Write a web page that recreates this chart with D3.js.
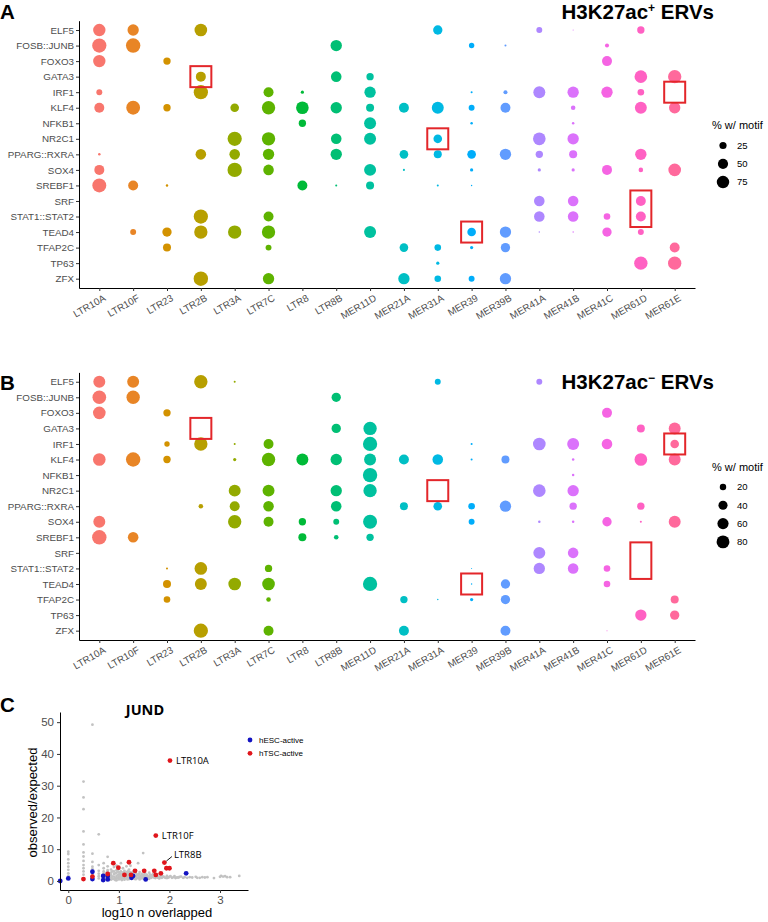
<!DOCTYPE html>
<html><head><meta charset="utf-8">
<script src="https://cdn.jsdelivr.net/npm/d3@7"></script>
<style>body{margin:0;background:#fff}svg{display:block}</style>
</head><body><svg id="c" width="768" height="922"></svg>
<script>
// ---------------- DATA ----------------
const motifs = ["ELF5","FOSB::JUNB","FOXO3","GATA3","IRF1","KLF4","NFKB1","NR2C1","PPARG::RXRA","SOX4","SREBF1","SRF","STAT1::STAT2","TEAD4","TFAP2C","TP63","ZFX"];
const ervs = ["LTR10A","LTR10F","LTR23","LTR2B","LTR3A","LTR7C","LTR8","LTR8B","MER11D","MER21A","MER31A","MER39","MER39B","MER41A","MER41B","MER41C","MER61D","MER61E"];
const ervPalette = ["#F8766D","#E88526","#D39200","#B79F00","#93AA00","#5EB300","#00BA38","#00BF74","#00C19F","#00BFC4","#00B9E3","#00ADFA","#619CFF","#AE87FF","#DB72FB","#F564E3","#FF61C3","#FF699C"];

// % of elements with motif, H3K27ac+ ERVs (rows = motifs, cols = ervs; 0 = no dot)
const valuesA = [
 [74,62,0,77,0,0,0,0,0,0,42,0,0,17,0.5,0,26,0],
 [98,100,0,0,0,0,0,62,0,0,0,14,2,0,0,8,0,0],
 [74,0,26,0,0,0,0,0,0,0,0,0,0,0,0,48,0,0],
 [0,0,0,48,0,0,0,54,26,0,0,0,0,0,0,0,77,86],
 [17,0,0,98,0,48,5,0,62,0,0,2,8,69,62,62,21,0],
 [48,92,26,0,36,86,77,62,31,48,69,17,48,0,10,0,69,62],
 [0,0,0,0,0,0,26,0,69,0,0,3,0,0,3,0,0,0],
 [0,0,0,0,98,86,0,54,69,0,36,0,0,77,62,0,0,0],
 [3,0,0,54,54,62,0,62,0,36,31,36,62,26,31,0,62,0],
 [48,0,0,0,100,54,0,0,69,2,0,5,0,5,5,48,10,77],
 [94,48,3,0,0,0,48,2,31,0,2,1,0,0,0,0,0,0],
 [0,0,0,0,0,0,0,0,0,0,0,0,0,54,54,0,48,0],
 [0,0,0,98,0,48,0,0,0,0,0,0,0,54,54,21,48,0],
 [0,17,42,86,86,86,0,0,69,0,0,36,62,1,1,42,17,0],
 [0,0,31,0,0,17,0,0,0,36,21,5,42,0,0,0,0,48],
 [0,0,0,0,0,0,0,0,0,0,5,0,0,0,0,0,86,86],
 [0,0,0,100,0,62,0,0,0,62,21,17,62,0,0,0,0,0]
];
// H3K27ac- ERVs
const valuesB = [
 [69,69,0,86,2,0,0,0,0,0,17,0,0,17,0,0,0,0],
 [90,86,0,0,0,0,0,42,0,0,0,0,0,0,0,0,0,0],
 [77,0,26,0,0,0,0,0,0,0,0,0,0,0,0,48,0,0],
 [0,0,0,0,0,0,0,42,86,0,0,0,0,0,0,0,31,69],
 [0,0,14,86,2,48,0,0,98,0,0,2,0,77,69,54,0,36],
 [77,100,26,0,5,86,69,62,69,48,54,2,31,0,3,0,77,69],
 [0,0,0,0,0,0,0,0,100,0,0,0,0,0,3,0,0,0],
 [0,0,0,0,69,69,0,62,86,0,0,0,0,77,62,0,0,0],
 [0,0,0,10,48,54,0,54,0,31,36,21,62,0,26,0,26,0],
 [69,0,0,0,86,48,26,17,94,0,0,17,0,3,3,42,2,69],
 [100,54,0,0,0,0,31,10,26,0,0,0,0,0,0,0,0,0],
 [0,0,0,0,0,0,0,0,0,0,0,0,0,69,54,0,0,0],
 [0,0,2,77,0,26,0,0,0,0,0,0.5,0,62,54,21,0,0],
 [0,0,31,69,77,77,0,0,98,0,0,1,42,0,0,21,0,0],
 [0,0,21,0,0,10,0,0,0,26,1,5,42,0,0,0,0,31],
 [0,0,0,0,0,0,0,0,0,0,0,0,0,0,0,0,62,42],
 [0,0,0,98,0,48,0,0,0,48,0,0,48,0,0,0.5,0,0]
];
// highlighted cells: [erv, first motif, last motif]
const boxesA = [["LTR2B","GATA3","GATA3"],["MER31A","NR2C1","NR2C1"],["MER39","TEAD4","TEAD4"],["MER61E","IRF1","IRF1"],["MER61D","SRF","STAT1::STAT2"]];
const boxesB = [["LTR2B","GATA3","GATA3"],["MER31A","NR2C1","NR2C1"],["MER39","TEAD4","TEAD4"],["MER61E","IRF1","IRF1"],["MER61D","SRF","STAT1::STAT2"]];
const legendA = [25,50,75];
const legendB = [20,40,60,80];

// Panel C: JUND enrichment, [log10 n overlapped, observed/expected]
const grayPoints = [
 [0,9.2],[0,8.5],[0,6.8],[0,5.6],[0,4.5],[0,3.5],[0,2.4],[0,1.6],[0,1.2],
 [0.301,31.3],[0.301,26.3],[0.301,22.6],[0.301,15.6],[0.301,11.5],[0.301,9.0],[0.301,7.7],[0.301,6.3],[0.301,5.0],[0.301,4.0],[0.301,3.0],[0.301,2.0],
 [0.477,49.2],[0.477,8.6],[0.477,6.0],[0.477,4.5],[0.477,3.8],[0.477,2.0],[0.477,1.2],
 [0.602,14.7],[0.602,5.0],[0.602,3.2],[0.602,2.3],[0.602,1.5],[0.602,0.8],
 [0.699,5.6],[0.699,4.0],[0.699,3.0],[0.699,2.4],[0.699,1.2],[0.699,0.6],
 [0.778,7.6],[0.778,4.6],[0.778,3.4],[0.778,2.8],[0.778,1.2],[0.778,0.4],
 [0.845,3.6],[0.845,2.6],[0.845,1.8],[0.845,1.0],[0.845,0.4],
 [0.903,4.4],[0.903,3.0],[0.903,2.2],[0.903,1.4],[0.903,0.6],
 [0.954,4.8],[0.954,3.4],[0.954,2.6],[0.954,1.6],[0.954,0.8],[0.954,0.2],
 [1.0,3.8],[1.0,2.8],[1.0,2.0],[1.0,1.2],[1.0,0.5],
 [1.04,5.6],[1.04,3.0],[1.04,2.2],[1.04,1.4],[1.04,0.6],
 [1.08,4.0],[1.08,2.6],[1.08,1.6],[1.08,0.8],
 [1.11,3.2],[1.11,2.4],[1.11,1.2],[1.11,0.4],
 [1.15,4.6],[1.15,2.8],[1.15,1.8],[1.15,0.9],
 [1.18,3.0],[1.18,2.0],[1.18,1.0],
 [1.2,3.6],[1.2,2.4],[1.2,1.4],[1.2,0.6],
 [1.23,4.8],[1.23,2.2],[1.23,1.2],
 [1.26,2.6],[1.26,1.8],[1.26,0.7],
 [1.3,3.4],[1.3,2.0],[1.3,1.0],
 [1.34,2.4],[1.34,1.4],[1.34,0.6],
 [1.38,5.6],[1.38,2.0],[1.38,1.0],
 [1.41,2.8],[1.41,1.4],[1.41,0.5],
 [1.45,2.2],[1.45,1.2],
 [1.48,8.8],[1.48,1.8],[1.48,0.8],
 [1.52,2.4],[1.52,1.3],
 [1.56,1.9],[1.56,0.9],
 [1.6,2.6],[1.6,1.4],[1.6,0.7],
 [1.64,1.8],[1.64,1.0],
 [1.68,2.2],[1.68,1.2],
 [1.72,1.6],[1.72,0.9],
 [1.76,2.0],[1.76,1.1],
 [1.8,1.4],[1.8,0.8],
 [1.85,1.8],[1.85,1.0],
 [1.9,1.2],[1.95,1.6],[1.95,0.9],[2.0,1.3],[2.05,1.0],[2.1,1.5],[2.15,1.1],[2.2,1.3],[2.27,1.0],
 [2.4,1.2],[2.52,1.3],[2.6,1.0],[2.65,1.2],[2.7,1.1],[2.88,0.9],[3.02,1.6],[3.06,1.4],[3.1,1.5],[3.2,1.2],[3.38,1.6],
 [0.73,2.0],[0.73,1.0],[0.76,2.6],[0.76,0.9],[0.81,2.2],[0.81,1.4],[0.81,0.6],[0.87,3.0],[0.87,1.4],[0.87,0.7],
 [0.93,2.4],[0.93,1.0],[0.93,0.3],[0.98,3.0],[0.98,1.8],[0.98,0.9],[1.02,2.4],[1.02,1.6],[1.02,0.8],[1.06,2.0],
 [1.06,1.0],[1.06,0.3],[1.1,2.8],[1.1,1.6],[1.13,2.0],[1.13,0.8],[1.17,2.4],[1.17,1.4],[1.17,0.5],[1.22,2.8],
 [1.22,1.6],[1.22,0.8],[1.25,2.2],[1.28,1.4],[1.28,2.8],[1.32,1.6],[1.32,0.6],[1.36,1.8],[1.36,0.9],[1.4,2.2],
 [1.4,1.0],[1.43,1.6],[1.43,0.7],[1.47,1.4],[1.5,2.0],[1.5,0.9],[1.54,1.6],[1.54,0.7],[1.58,1.4],[1.62,1.2],
 [1.62,2.0],[1.66,1.5],[1.7,1.1],[1.74,1.4],[1.78,1.0],[1.82,1.2],[1.88,1.4],[1.92,1.0],[1.98,1.1],[2.02,1.5],
 [2.08,1.2],[2.12,0.9],[2.18,1.1],[2.23,1.4],[2.3,1.2],[2.35,1.0],[2.45,1.1],[2.55,1.0],[2.75,1.2],[3.0,1.3],[3.14,1.2]
];
const hescPoints = [[-0.16,0],[0,0.8],[0.477,2.9],[0.477,0.6],[0.69,1.6],[0.69,0.3],[0.78,1.6],[0.78,0.5],[1.25,1.0],[1.28,1.6],[1.53,0.5],[2.33,2.4]];
const htscPoints = [[0.30,0.6],[0.477,1.4],[0.78,2.2],[0.89,5.6],[0.99,4.2],[1.11,1.9],[1.2,5.9],[1.24,1.9],[1.32,3.2],[1.5,3.2],[1.70,3.2],[1.73,1.9],[1.83,2.4],[1.90,5.8],[1.94,4.0],[2.0,4.0],[1.73,14.3],[2.01,37.9]];
const labelNamesC = ["LTR10A","LTR10F","LTR8B"];
const labelPosC = [[2.01,37.9],[1.73,14.3],[1.90,5.8]];
const xTicksC = [0,1,2,3];
const yTicksC = [0,10,20,30,40,50];

// ---------------- DRAW ----------------
const svg = d3.select("#c");
const AX = "Liberation Sans, Arial, sans-serif";
const TT = "Open Sans, Lato, sans-serif";

const x = d3.scalePoint().domain(ervs).range([79, 695]).padding(0.6);
const r = d3.scaleSqrt().domain([0, 100]).range([0, 7.2]);
const color = d3.scaleOrdinal().domain(ervs).range(ervPalette);

function dotPanel(values, top, bottom, boxes, legendVals, legendTop, titleY, titleSign) {
  const g = svg.append("g");
  const y = d3.scalePoint().domain(motifs).range([top, bottom]).padding(0.6);
  const cells = [];
  values.forEach((row, i) => row.forEach((v, j) => { if (v > 0) cells.push({m: motifs[i], e: ervs[j], v}); }));
  g.selectAll("circle.dot").data(cells).join("circle").attr("class", "dot")
    .attr("cx", d => x(d.e)).attr("cy", d => y(d.m)).attr("r", d => r(d.v))
    .attr("fill", d => color(d.e));
  g.selectAll("rect.box").data(boxes).join("rect").attr("class", "box")
    .attr("x", d => x(d[0]) - 10.5).attr("y", d => y(d[1]) - 10.5)
    .attr("width", 21).attr("height", d => y(d[2]) - y(d[1]) + 21)
    .attr("fill", "none").attr("stroke", "#e3262a").attr("stroke-width", 2);
  const ya = g.append("g").attr("transform", `translate(79,0)`)
    .call(d3.axisLeft(y).tickSize(3).tickSizeOuter(0).tickPadding(2));
  ya.selectAll("text").attr("font-family", AX).attr("font-size", 9.8).attr("fill", "#4d4d4d");
  const xa = g.append("g").attr("transform", `translate(0,${bottom})`)
    .call(d3.axisBottom(x).tickSize(3).tickSizeOuter(0));
  xa.selectAll("text").attr("font-family", AX).attr("font-size", 9.8).attr("fill", "#4d4d4d")
    .attr("text-anchor", "end").attr("x", 0).attr("y", 0).attr("dy", "0.71em")
    .attr("transform", "translate(3,6) rotate(-30)");
  [ya, xa].forEach(a => { a.select(".domain").attr("stroke", "#000").attr("stroke-width", 1); a.selectAll(".tick line").attr("stroke", "#333"); });
  const t = g.append("text").attr("x", 714).attr("y", titleY).attr("text-anchor", "end")
    .attr("font-family", AX).attr("font-weight", "bold").attr("font-size", 20.5).attr("fill", "#000");
  t.append("tspan").text("H3K27ac");
  t.append("tspan").attr("dy", -7).attr("font-size", 12).text(titleSign);
  t.append("tspan").attr("dy", 7).text(" ERVs");
  const lg = g.append("g");
  lg.append("text").attr("x", 712).attr("y", legendTop).attr("font-family", AX).attr("font-size", 11).text("% w/ motif");
  lg.selectAll("circle").data(legendVals).join("circle")
    .attr("cx", 723).attr("cy", (d, i) => legendTop + 16.5 + i * 18.3).attr("r", d => r(d)).attr("fill", "#000");
  lg.selectAll("text.lv").data(legendVals).join("text").attr("class", "lv")
    .attr("x", 737).attr("y", (d, i) => legendTop + 16.5 + i * 18.3).attr("dy", "0.35em")
    .attr("font-family", AX).attr("font-size", 9.5).text(d => d);
}

dotPanel(valuesA, 20.7, 288, boxesA, legendA, 129, 19, "+");
dotPanel(valuesB, 372.4, 640, boxesB, legendB, 470.5, 389, "\u2212");

[["A", 19], ["B", 390], ["C", 712]].forEach(([l, yy]) =>
  svg.append("text").attr("x", 0).attr("y", yy).attr("font-family", AX).attr("font-weight", "bold").attr("font-size", 20.5).text(l));

// ---------------- Panel C ----------------
const gc = svg.append("g");
const xc = d3.scaleLinear().domain([-0.164, 3.553]).range([60, 248]);
const yc = d3.scaleLinear().domain([-2.84, 53.2]).range([890, 712]);
gc.selectAll("circle.gr").data(grayPoints).join("circle").attr("class", "gr")
  .attr("cx", d => xc(d[0])).attr("cy", d => yc(d[1])).attr("r", 1.4).attr("fill", "#c2c2c2");
gc.selectAll("circle.es").data(hescPoints).join("circle").attr("class", "es")
  .attr("cx", d => xc(d[0])).attr("cy", d => yc(d[1])).attr("r", 2.4).attr("fill", "#1313c2");
gc.selectAll("circle.ts").data(htscPoints).join("circle").attr("class", "ts")
  .attr("cx", d => xc(d[0])).attr("cy", d => yc(d[1])).attr("r", 2.4).attr("fill", "#e0161c");
const xca = gc.append("g").attr("transform", "translate(0,890)").call(d3.axisBottom(xc).tickValues(xTicksC).tickFormat(d3.format("d")).tickSize(3).tickSizeOuter(0).tickPadding(3));
const yca = gc.append("g").attr("transform", "translate(60,0)").call(d3.axisLeft(yc).tickValues(yTicksC).tickFormat(d3.format("d")).tickSize(3).tickSizeOuter(0).tickPadding(3));
[xca, yca].forEach(a => {
  a.select(".domain").attr("stroke", "#000").attr("stroke-width", 1);
  a.selectAll(".tick line").attr("stroke", "#333");
  a.selectAll("text").attr("font-family", AX).attr("font-size", 11.5).attr("fill", "#4d4d4d");
});
gc.append("text").attr("x", 145).attr("y", 715).attr("text-anchor", "middle").attr("font-family", TT)
  .attr("font-weight", "bold").attr("font-size", 14.5).text("JUND");
gc.append("text").attr("transform", "translate(37,802.5) rotate(-90)").attr("text-anchor", "middle")
  .attr("font-family", AX).attr("font-size", 13).text("observed/expected");
gc.append("text").attr("x", 157).attr("y", 917).attr("text-anchor", "middle")
  .attr("font-family", AX).attr("font-size", 13).text("log10 n overlapped");
const lblOff = [[6, 3.3], [6, 3.3], [9.5, -5]];
labelNamesC.forEach((n, i) => {
  const px = xc(labelPosC[i][0]), py = yc(labelPosC[i][1]);
  if (n === "LTR8B") gc.append("line").attr("x1", px + 2).attr("y1", py - 1.5).attr("x2", px + 7.5).attr("y2", py - 6)
    .attr("stroke", "#000").attr("stroke-width", 0.9);
  gc.append("text").attr("x", px + lblOff[i][0]).attr("y", py + lblOff[i][1])
    .attr("font-family", TT).attr("font-size", 9.5).text(n);
});
const legC = [["hESC-active", "#1313c2"], ["hTSC-active", "#e0161c"]];
legC.forEach(([t, c], i) => {
  gc.append("circle").attr("cx", 250).attr("cy", 740 + i * 13.3).attr("r", 2.4).attr("fill", c);
  gc.append("text").attr("x", 259).attr("y", 740 + i * 13.3).attr("dy", "0.35em").attr("font-family", AX).attr("font-size", 8).text(t);
});
</script></body></html>
